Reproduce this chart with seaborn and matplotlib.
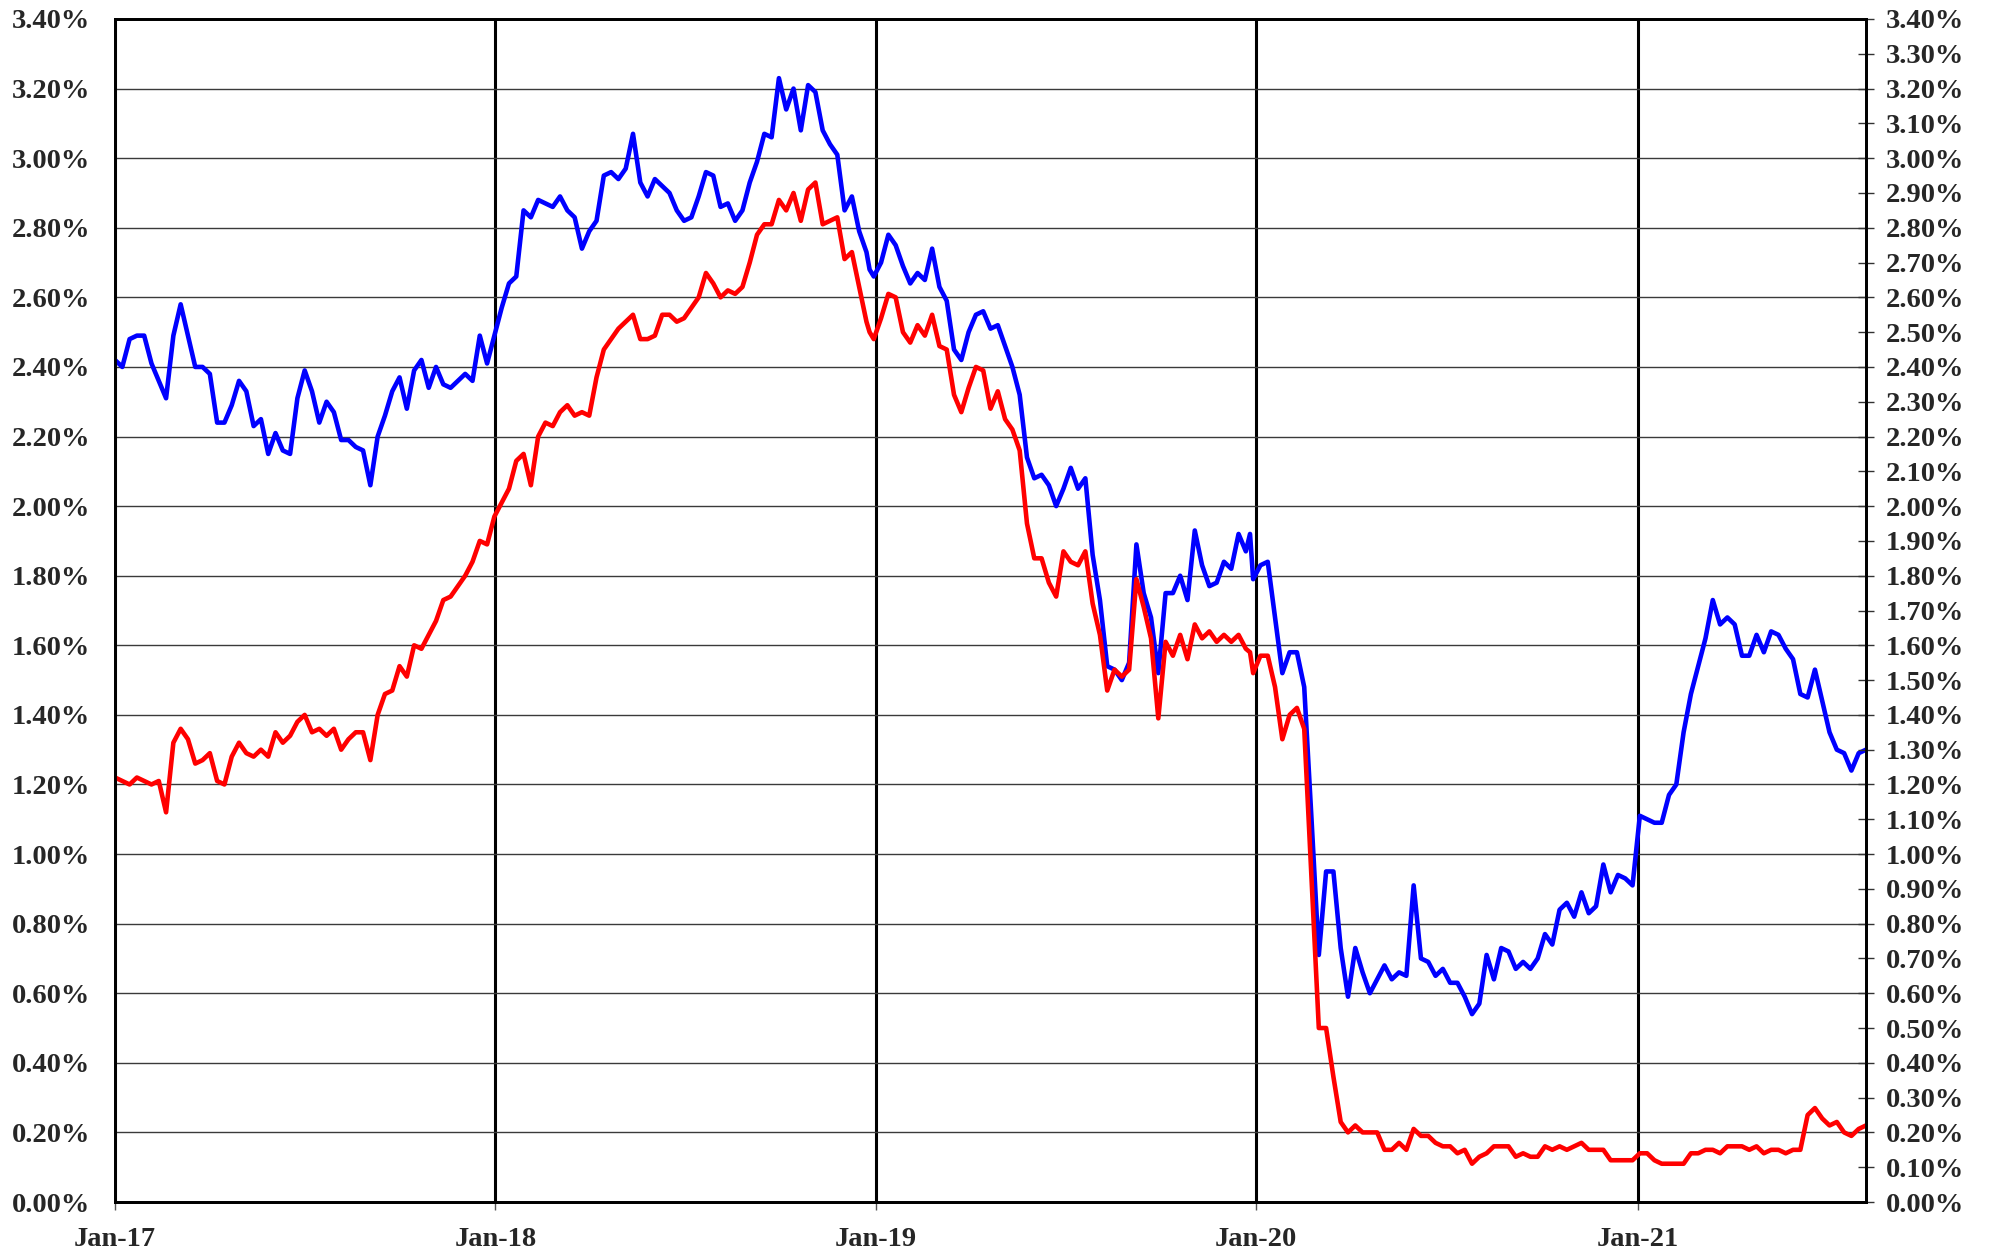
import matplotlib
matplotlib.use("Agg")
import numpy as np
import pandas as pd
import matplotlib.pyplot as plt
import matplotlib.dates as mdates
from matplotlib.ticker import MultipleLocator, FuncFormatter
import seaborn as sns

# weekly yields (%); each year block ends with the year-end point
blue_2017 = [2.42, 2.40, 2.48, 2.49, 2.49, 2.41, 2.36, 2.31, 2.49, 2.58,
             2.49, 2.40, 2.40, 2.38, 2.24, 2.24, 2.29, 2.36, 2.33, 2.23,
             2.25, 2.15, 2.21, 2.16, 2.15, 2.31, 2.39, 2.33, 2.24, 2.30,
             2.27, 2.19, 2.19, 2.17, 2.16, 2.06, 2.20, 2.26, 2.33, 2.37,
             2.28, 2.39, 2.42, 2.34, 2.40, 2.35, 2.34, 2.36, 2.38, 2.36,
             2.49, 2.41]
blue_2018 = [2.49, 2.57, 2.64, 2.66, 2.85, 2.83, 2.88, 2.87, 2.86, 2.89,
             2.85, 2.83, 2.74, 2.79, 2.82, 2.95, 2.96, 2.94, 2.97, 3.07,
             2.93, 2.89, 2.94, 2.92, 2.90, 2.85, 2.82, 2.83, 2.89, 2.96,
             2.95, 2.86, 2.87, 2.82, 2.85, 2.93, 2.99, 3.07, 3.06, 3.23,
             3.14, 3.20, 3.08, 3.21, 3.19, 3.08, 3.04, 3.01, 2.85, 2.89,
             2.79, 2.73, 2.68]
blue_2019 = [2.66, 2.70, 2.78, 2.75, 2.69, 2.64, 2.67, 2.65, 2.74, 2.63,
             2.59, 2.45, 2.42, 2.50, 2.55, 2.56, 2.51, 2.52, 2.46, 2.40,
             2.32, 2.14, 2.08, 2.09, 2.06, 2.00, 2.05, 2.11, 2.05, 2.08,
             1.86, 1.73, 1.54, 1.53, 1.50, 1.55, 1.89, 1.75, 1.68, 1.52,
             1.75, 1.75, 1.80, 1.73, 1.93, 1.83, 1.77, 1.78, 1.84, 1.82,
             1.92, 1.87, 1.92]
blue_2020 = [1.79, 1.83, 1.84, 1.68, 1.52, 1.58, 1.58, 1.48, 1.10, 0.71,
             0.95, 0.95, 0.73, 0.59, 0.73, 0.66, 0.60, 0.64, 0.68, 0.64,
             0.66, 0.65, 0.91, 0.70, 0.69, 0.65, 0.67, 0.63, 0.63, 0.59,
             0.54, 0.57, 0.71, 0.64, 0.73, 0.72, 0.67, 0.69, 0.67, 0.70,
             0.77, 0.74, 0.84, 0.86, 0.82, 0.89, 0.83, 0.85, 0.97, 0.89,
             0.94, 0.93, 0.91, 1.11]
blue_2021 = [1.10, 1.09, 1.09, 1.17, 1.20, 1.35, 1.46, 1.54, 1.62, 1.73,
             1.66, 1.68, 1.66, 1.57, 1.57, 1.63, 1.58, 1.64, 1.63, 1.59,
             1.56, 1.46, 1.45, 1.53, 1.44, 1.35, 1.30, 1.29, 1.24, 1.29,
             1.30]

red_2017 = [1.22, 1.21, 1.20, 1.22, 1.21, 1.20, 1.21, 1.12, 1.32, 1.36,
            1.33, 1.26, 1.27, 1.29, 1.21, 1.20, 1.28, 1.32, 1.29, 1.28,
            1.30, 1.28, 1.35, 1.32, 1.34, 1.38, 1.40, 1.35, 1.36, 1.34,
            1.36, 1.30, 1.33, 1.35, 1.35, 1.27, 1.40, 1.46, 1.47, 1.54,
            1.51, 1.60, 1.59, 1.63, 1.67, 1.73, 1.74, 1.77, 1.80, 1.84,
            1.90, 1.89]
red_2018 = [1.97, 2.01, 2.05, 2.13, 2.15, 2.06, 2.20, 2.24, 2.23, 2.27,
            2.29, 2.26, 2.27, 2.26, 2.37, 2.45, 2.48, 2.51, 2.53, 2.55,
            2.48, 2.48, 2.49, 2.55, 2.55, 2.53, 2.54, 2.57, 2.60, 2.67,
            2.64, 2.60, 2.62, 2.61, 2.63, 2.70, 2.78, 2.81, 2.81, 2.88,
            2.85, 2.90, 2.82, 2.91, 2.93, 2.81, 2.82, 2.83, 2.71, 2.73,
            2.63, 2.53, 2.50]
red_2019 = [2.48, 2.54, 2.61, 2.60, 2.50, 2.47, 2.52, 2.49, 2.55, 2.46,
            2.45, 2.32, 2.27, 2.34, 2.40, 2.39, 2.28, 2.33, 2.25, 2.22,
            2.16, 1.95, 1.85, 1.85, 1.78, 1.74, 1.87, 1.84, 1.83, 1.87,
            1.72, 1.63, 1.47, 1.53, 1.51, 1.53, 1.79, 1.71, 1.62, 1.39,
            1.61, 1.57, 1.63, 1.56, 1.66, 1.62, 1.64, 1.61, 1.63, 1.61,
            1.63, 1.59, 1.58]
red_2020 = [1.52, 1.57, 1.57, 1.48, 1.33, 1.40, 1.42, 1.36, 0.93, 0.50,
            0.50, 0.36, 0.23, 0.20, 0.22, 0.20, 0.20, 0.20, 0.15, 0.15,
            0.17, 0.15, 0.21, 0.19, 0.19, 0.17, 0.16, 0.16, 0.14, 0.15,
            0.11, 0.13, 0.14, 0.16, 0.16, 0.16, 0.13, 0.14, 0.13, 0.13,
            0.16, 0.15, 0.16, 0.15, 0.16, 0.17, 0.15, 0.15, 0.15, 0.12,
            0.12, 0.12, 0.12, 0.14]
red_2021 = [0.14, 0.12, 0.11, 0.11, 0.11, 0.11, 0.14, 0.14, 0.15, 0.15,
            0.14, 0.16, 0.16, 0.16, 0.15, 0.16, 0.14, 0.15, 0.15, 0.14,
            0.15, 0.15, 0.25, 0.27, 0.24, 0.22, 0.23, 0.20, 0.19, 0.21,
            0.22]

# Friday dates plus the two year-end readings
weeks = pd.date_range("2017-01-06", periods=241, freq="7D")
year_ends = pd.to_datetime(["2018-12-31", "2019-12-31"])
dates = weeks.append(year_ends).sort_values()

blue = blue_2017 + blue_2018 + blue_2019 + blue_2020 + blue_2021
red = red_2017 + red_2018 + red_2019 + red_2020 + red_2021
df = pd.DataFrame({"date": dates, "long": blue, "short": red})

sns.set_style("white")
plt.rcParams['font.family'] = ['Liberation Serif', 'DejaVu Serif']
plt.rcParams['font.weight'] = 'bold'

fig = plt.figure(figsize=(19.96, 12.58), dpi=100)
ax = fig.add_axes([115 / 1996, 1 - 1202 / 1258, (1866 - 115) / 1996, (1202 - 19) / 1258])

sns.lineplot(data=df, x="date", y="long", color="#0000FF", lw=3.3, ax=ax, zorder=3)
sns.lineplot(data=df, x="date", y="short", color="#FF0000", lw=3.3, ax=ax, zorder=3)

pct = FuncFormatter(lambda v, p: "%.2f%%" % v)

ax.set_xlim(dates[0], dates[-1])
ax.set_ylim(0, 3.4)
ax.yaxis.set_major_locator(MultipleLocator(0.2))
ax.yaxis.set_major_formatter(pct)
ax.xaxis.set_major_locator(mdates.YearLocator(month=1, day=6))
ax.xaxis.set_major_formatter(mdates.DateFormatter("%b-%y"))
ax.set_xlabel("")
ax.set_ylabel("")
ax.set_axisbelow(True)
ax.yaxis.grid(True, color="#3a3a3a", lw=1.0)
ax.xaxis.grid(True, color="black", lw=2.2)
for s in ax.spines.values():
    s.set_linewidth(2)
    s.set_color("black")
ax.tick_params(axis="y", left=False, length=0, pad=18, labelsize=20.5)
ax.tick_params(axis="x", bottom=True, direction="out", length=6, width=1,
               color="#555555", pad=12, labelsize=20.5)

ax2 = ax.twinx()
ax2.set_ylim(0, 3.4)
ax2.yaxis.set_major_locator(MultipleLocator(0.1))
ax2.yaxis.set_major_formatter(pct)
ax2.grid(False)
ax2.tick_params(axis="y", right=True, direction="inout", length=12, width=1,
                color="#333333", pad=8, labelsize=20.5)
for s in ax2.spines.values():
    s.set_linewidth(2)
    s.set_color("black")

for lab in ax.get_xticklabels() + ax.get_yticklabels() + ax2.get_yticklabels():
    lab.set_fontweight("bold")
    lab.set_family(["Liberation Serif", "DejaVu Serif"])

fig.savefig("out.png", dpi=100)
